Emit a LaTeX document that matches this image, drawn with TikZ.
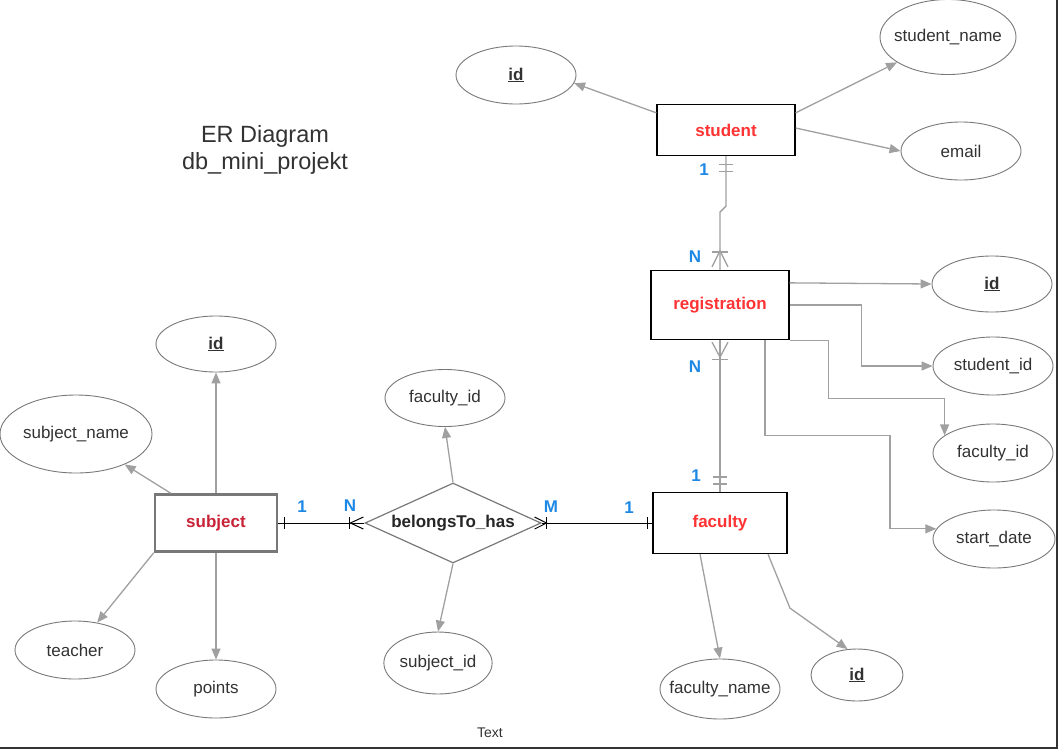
\documentclass[tikz,border=0pt]{standalone}
\usepackage{fontspec}
\setmainfont{Liberation Sans}
\usetikzlibrary{shapes,arrows.meta}

\definecolor{entred}{RGB}{255,51,51}
\definecolor{subjred}{RGB}{200,35,55}
\definecolor{cardblue}{RGB}{30,136,229}
\definecolor{linegray}{RGB}{160,160,160}
\definecolor{edgegray}{RGB}{120,120,120}
\definecolor{txtgray}{RGB}{50,50,50}

\tikzset{
  entity/.style={rectangle, draw, line width=1.3pt, minimum width=138pt, minimum height=51pt,
    font=\bfseries\fontsize{17}{20}\selectfont, text=entred},
  attr/.style={ellipse, draw=edgegray, line width=0.9pt, inner sep=0pt, minimum width=120pt,
    minimum height=58pt, font=\fontsize{17}{20}\selectfont, text=txtgray},
  conn/.style={draw=linegray, line width=1.3pt, -{Triangle[length=11pt,width=9pt]}},
  rel/.style={draw=linegray, line width=1.3pt},
  link/.style={draw=black, line width=1pt},
  card/.style={text=cardblue, font=\bfseries\fontsize{17}{20}\selectfont},
}

\begin{document}
\begin{tikzpicture}[x=1pt, y=-1pt]
    \useasboundingbox (0,0) rectangle (1059,750);

    \node [font=\fontsize{23.5}{27}\selectfont, text=txtgray, align=center] (title) at (265,150) {ER Diagram\\db\_mini\_projekt};
    \node [font=\fontsize{14}{16}\selectfont, text=txtgray] (txt) at (490,733) {Text};

    % student
    \node [entity] (st) at (726,130) {student};
    \node [attr] (stid) at (516,75) {\underline{\textbf{id}}};
    \node [attr, inner xsep=-18pt, minimum width=136pt, minimum height=75pt] (stname) at (948,37) {student\_name};
    \node [attr] (stmail) at (961,151) {email};

    \draw [conn] ([yshift=-9pt]st.north west) -- (stid.-8);
    \draw [conn] ([yshift=-9pt]st.north east) -- (stname);
    \draw [conn] ([yshift=2pt]st.east) -- (stmail.west);

    % registration
    \node [entity, minimum height=69pt] (reg) at (720,305) {registration};
    \node [attr, minimum height=56pt] (regid) at (992,284) {\underline{\textbf{id}}};
    \node [attr] (regst) at (993,366) {student\_id};
    \node [attr] (regfac) at (993,453) {faculty\_id};
    \node [attr, minimum width=122pt] (regdate) at (994,539) {start\_date};

    \draw [conn] ([yshift=-13pt]reg.north east) -- (regid.west);
    \draw [conn] (reg.east) -- ++(72,0) |- (regst.west);
    \draw [conn] (reg.south east) -- ++(39,0) -- ++(0,58) -| (regfac.160);
    \draw [conn] ([xshift=45pt]reg.south) -- ++(0,95) -- ++(125,0) |- (regdate.170);

    % faculty
    \node [entity, minimum width=134pt, minimum height=61pt] (fac) at (720,523) {faculty};
    \node [attr, inner xsep=-20pt, minimum height=60pt] (facname) at (720,689) {faculty\_name};
    \node [attr, minimum width=92pt, minimum height=52pt] (facid) at (857,675) {\underline{\textbf{id}}};

    \draw [conn] ([xshift=-20pt]fac.south) -- (facname.north);
    \draw [conn] ([xshift=48pt]fac.south) -- ++(22,54) -- (facid.110);

    % subject
    \node [entity, draw=edgegray, line width=2.5pt, minimum width=122pt, minimum height=57pt, text=subjred] (subj) at (216,523) {subject};
    \node [attr, minimum height=56pt] (subjid) at (216,344) {\underline{\textbf{id}}};
    \node [attr, inner xsep=-10pt, minimum width=152pt, minimum height=78pt] (subjname) at (76,434) {subject\_name};
    \node [attr] (teacher) at (75,650) {teacher};
    \node [attr] (points) at (216,689) {points};

    \draw [conn] (subj.north) -- (subjid.south);
    \draw [conn] ([xshift=17pt]subj.north west) -- (subjname);
    \draw [conn] (subj.south west) -- (teacher);
    \draw [conn] (subj.south) -- (points.north);

    % belongsTo_has
    \node [diamond, aspect=2.2, draw=edgegray, line width=1.2pt, inner sep=0pt, minimum width=176pt, minimum height=80pt,
        font=\bfseries\fontsize{17}{20}\selectfont, text=black!85] (bel) at (453,523) {belongsTo\_has};
    \node [attr, minimum height=57pt] (belfac) at (445,398) {faculty\_id};
    \node [attr, minimum width=105pt, minimum height=62pt] (belsub) at (438,663) {subject\_id};

    \draw [conn] (bel.north) -- (belfac.south);
    \draw [conn] (bel.south) -- (belsub.north);

    % relationships
    \draw [rel] (st.south) -- ++(0,50) -- ++(-6,6) -- (reg.north);
    \draw [rel] ([xshift=-7pt,yshift=-8pt]st.south) -- ++(14,0);
    \draw [rel] ([xshift=-7pt,yshift=-15pt]st.south) -- ++(14,0);
    \draw [rel] ([xshift=-8pt,yshift=3pt]reg.north) -- ([yshift=19pt]reg.north) -- ([xshift=8pt,yshift=3pt]reg.north);
    \draw [rel] ([xshift=-8pt,yshift=18pt]reg.north) -- ++(16,0);

    \draw [rel] (reg.south) -- (fac.north);
    \draw [rel] ([xshift=-8pt,yshift=-2pt]reg.south) -- ([yshift=-17pt]reg.south) -- ([xshift=8pt,yshift=-2pt]reg.south);
    \draw [rel] ([xshift=-8pt,yshift=-19pt]reg.south) -- ++(16,0);
    \draw [rel] ([xshift=-7pt,yshift=15pt]fac.north) -- ++(14,0);
    \draw [rel] ([xshift=-7pt,yshift=8pt]fac.north) -- ++(14,0);

    \draw [link] (subj.east) -- (bel.west);
    \draw [link] ([xshift=6pt,yshift=6pt]subj.east) -- ++(0,12);
    \draw [link] ([xshift=-1pt,yshift=6pt]bel.west) -- ([xshift=-14pt]bel.west) -- ([xshift=-1pt,yshift=-6pt]bel.west);
    \draw [link] ([xshift=-15pt,yshift=6pt]bel.west) -- ++(0,12);

    \draw [link] (bel.east) -- (fac.west);
    \draw [link] ([xshift=-7pt,yshift=6pt]bel.east) -- ([xshift=5pt]bel.east) -- ([xshift=-7pt,yshift=-6pt]bel.east);
    \draw [link] ([xshift=5pt,yshift=6pt]bel.east) -- ++(0,12);
    \draw [link] ([xshift=-5pt,yshift=6pt]fac.west) -- ++(0,12);

    \node [card] (c1) at (704,170) {1};
    \node [card] (c2) at (695,257) {N};
    \node [card] (c3) at (695,367) {N};
    \node [card] (c4) at (696,476) {1};
    \node [card] (c5) at (302,507) {1};
    \node [card] (c6) at (350,506) {N};
    \node [card] (c7) at (551,507) {M};
    \node [card] (c8) at (629,508) {1};

    % frame
    \draw [line width=2.5pt, black!80] (0,748) -- (1057,748) -- (1057,0);
\end{tikzpicture}
\end{document}
